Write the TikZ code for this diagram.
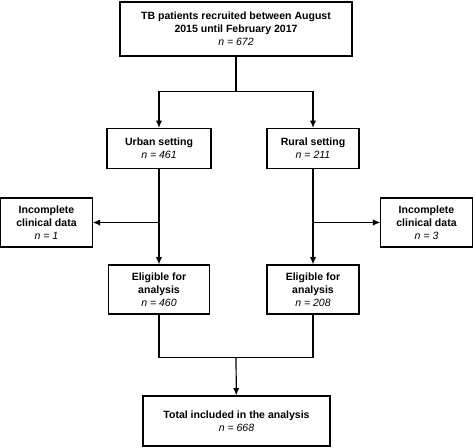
\documentclass[tikz,border=0pt]{standalone}
\usepackage{fontspec}
\setmainfont{Liberation Sans}
\usepackage{tikz}
\usetikzlibrary{arrows.meta}
\tikzset{
  stage/.style = {draw, rectangle, line width=0.9pt, align=center, inner sep=1pt,
    font=\fontsize{7.9}{9.9}\selectfont\bfseries},
  flow/.style = {line width=0.9pt, -{Latex[length=5.5pt,width=4.8pt]}},
  link/.style = {line width=0.9pt}
}
\newcommand{\nval}[1]{{\mdseries\itshape n = #1}}

\begin{document}
\begin{tikzpicture}[x=0.75pt,y=-0.75pt]
  \useasboundingbox (0,0) rectangle (473,447);

  \node[stage, minimum width=174pt, minimum height=40.5pt] (recruited) at (236,29)
    {TB patients recruited between August\\2015 until February 2017\\\nval{672}};

  \node[stage, minimum width=78pt, minimum height=30pt] (urban) at (159,148.5)
    {Urban setting\\\nval{461}};
  \node[stage, minimum width=69pt, minimum height=30pt] (rural) at (313,148.5)
    {Rural setting\\\nval{211}};

  \node[stage, minimum width=68.5pt, minimum height=36.75pt] (exclUrban) at (46.5,222.5)
    {Incomplete\\clinical data\\\nval{1}};
  \node[stage, minimum width=68.5pt, minimum height=36.75pt] (exclRural) at (426.5,222.5)
    {Incomplete\\clinical data\\\nval{3}};

  \node[stage, minimum width=75.75pt, minimum height=36.75pt] (eligUrban) at (159,289.5)
    {Eligible for\\analysis\\\nval{460}};
  \node[stage, minimum width=69pt, minimum height=36.75pt] (eligRural) at (313,289.5)
    {Eligible for\\analysis\\\nval{208}};

  \node[stage, minimum width=140.25pt, minimum height=37.5pt] (total) at (236.5,421)
    {Total included in the analysis\\\nval{668}};

  % split after recruitment
  \coordinate (split) at (236,91.5);
  \draw[link] (recruited) -- (split);
  \draw[flow] (split) -| (urban.north);
  \draw[flow] (split) -| (rural.north);

  % exclusions
  \coordinate (urbanExit) at (urban.south |- exclUrban.east);
  \coordinate (ruralExit) at (rural.south |- exclRural.west);
  \draw[flow] (urban) -- (eligUrban);
  \draw[flow] (rural) -- (eligRural);
  \draw[flow] (urbanExit) -- (exclUrban);
  \draw[flow] (ruralExit) -- (exclRural);

  % merge
  \coordinate (merge) at (236,357.5);
  \draw[link] (eligUrban) |- (merge);
  \draw[link] (eligRural) |- (merge);
  \draw[flow] (merge) -- (total);
\end{tikzpicture}
\end{document}
